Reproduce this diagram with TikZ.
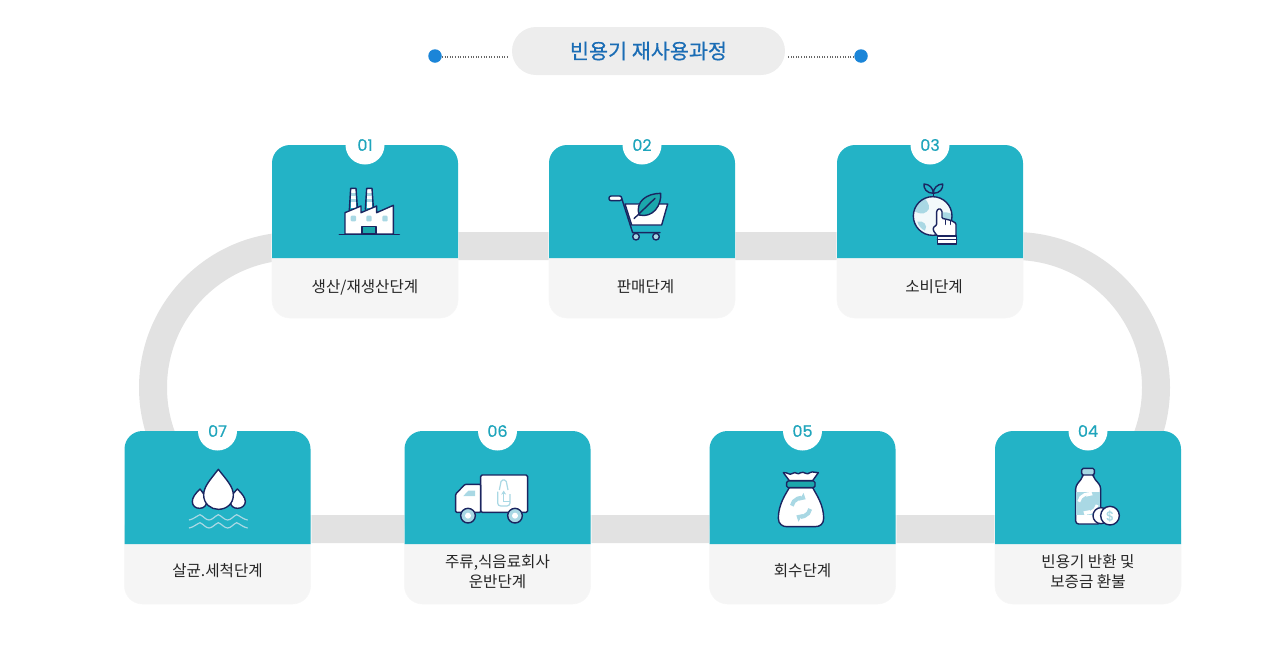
\documentclass[tikz,border=0pt]{standalone}
\usepackage{fontspec}
\newfontfamily\cjk{Noto Sans CJK KR}
\newfontfamily\cjkm[FakeBold=0.5]{Noto Sans CJK KR}
\newfontfamily\numf[FakeBold=0.5]{Poppins}
\usetikzlibrary{arrows.meta}
\definecolor{tealc}{HTML}{23B3C6}
\definecolor{bandc}{HTML}{E2E2E2}
\definecolor{navy}{HTML}{1B2560}
\definecolor{lblue}{HTML}{A9D8E4}
\definecolor{lower}{HTML}{F5F5F5}
\definecolor{numc}{HTML}{1FA5BC}
\definecolor{titlec}{HTML}{1B6DB5}
\definecolor{dotc}{HTML}{1B85D8}
\definecolor{leaf}{HTML}{1BA7AC}
\tikzset{
  x=1pt,y=-1pt,
  lab/.style={font=\cjk\fontsize{15.6}{20}\selectfont,text=black!85,align=center,inner sep=0pt},
  numlab/.style={font=\numf\fontsize{16}{16}\selectfont,text=numc,inner sep=0pt},
  ic/.style={draw=navy,line width=1.4pt,line join=round,line cap=round},
  wht/.style={ic,fill=white},
  dotline/.style={draw=black!60,line width=1.1pt,dash pattern=on 1.1pt off 1.5pt},
  dotn/.style={circle,fill=dotc,minimum size=13.5pt,inner sep=0pt}
}
% name, x-left, y-top, number, label, label y, label dx
\newcommand{\card}[7]{%
  \fill[white,opacity=.5] (#2-1,#3+20) rectangle (#2+187,#3+113);
  \fill[lower,draw=black!3,line width=.6pt,rounded corners=18pt] (#2,#3+80) rectangle (#2+186,#3+173);
  \fill[tealc] (#2,#3+113) -- (#2,#3+18) arc (180:270:18) -- (#2+168,#3) arc (-90:0:18) -- (#2+186,#3+113) -- cycle;
  \fill[white] (#2+93,#3) circle (19.5);
  \fill[white] (#2+70,#3-8) rectangle (#2+116,#3);
  \node[numlab] (#1n) at (#2+93,#3) {#4};
  \node[lab] (#1l) at (#2+93+#7,#6) {#5};
}
% two-arrow recycle sign, in zoom units
\newcommand{\recyc}[4]{%
  \draw[#1,line width=#4,-{Triangle[length=5pt,width=8.5pt]}] (#2,#3)++(190:28) arc (190:300:28);
  \draw[#1,line width=#4,-{Triangle[length=5pt,width=8.5pt]}] (#2,#3)++(10:28) arc (10:120:28);
}
\begin{document}
\begin{tikzpicture}
\useasboundingbox (0,0) rectangle (1280,662);
% track
\draw[bandc,line width=28pt] (294.5,246) -- (1014.5,246) arc (-90:90:141.5) -- (294.5,529) arc (90:270:141.5) -- cycle;
% header
\node[fill=black!7,minimum width=273pt,minimum height=48pt,rounded corners=24pt,inner sep=0pt,
  font=\cjkm\fontsize{20.7}{24}\selectfont,text=titlec] (title) at (648.5,51) {\raisebox{-2pt}{빈용기 재사용과정}};
\node[dotn] (dotL) at (435,56) {};
\node[dotn] (dotR) at (861,56) {};
\draw[dotline] (dotL.east) ++(0,1) -- ++(67,0);
\draw[dotline] (dotR.west) ++(0,1) -- ++(-67,0);
% cards
\card{a}{272}{145}{01}{생산/재생산단계}{287}{0}
\card{b}{549}{145}{02}{판매단계}{287}{3.5}
\card{c}{837}{145}{03}{소비단계}{287}{4}
\card{g}{124.5}{431}{07}{살균.세척단계}{571}{0}
\card{f}{404.5}{431}{06}{주류,식음료회사\\운반단계}{571.5}{0}
\card{e}{709.5}{431}{05}{회수단계}{571}{0}
\card{d}{995}{431}{04}{빈용기 반환 및\\보증금 환불}{571.5}{0}
% factory
\begin{scope}[shift={(260,130)},scale=1/3]
\fill[white] (272,175) rectangle (288,235);
\fill[white] (320,175) rectangle (336,235);
\foreach \a in {0,1}{\fill[lblue] (272,190+\a*18) rectangle (288,198+\a*18);\fill[lblue] (320,190+\a*18) rectangle (336,198+\a*18);}
\draw[ic] (268,240) -- (272,175) -- (288,175) -- (292,232);
\draw[ic] (316,238) -- (320,175) -- (336,175) -- (340,232);
\draw[wht] (255,312) -- (255,248) -- (303,228) -- (303,248) -- (350,228) -- (350,248) -- (400,226) -- (400,312) -- cycle;
\foreach \x in {280,327,375}{\fill[lblue,rounded corners=1pt] (\x-8,257) rectangle (\x+8,274);}
\draw[ic,fill=leaf] (306,290) rectangle (348,312);
\draw[ic] (238,313) -- (418,313);
\end{scope}
% cart
\begin{scope}[shift={(540,130)},scale=1/3]
\draw[ic,fill=white] (255,222) -- (383,222) -- (365,285) -- (275,285) -- cycle;
\draw[ic] (245,205) -- (278,308) -- (360,308);
\draw[wht,rounded corners=2pt] (207,198) rectangle (245,212);
\draw[ic,fill=lblue] (288,320) circle (10);
\draw[ic,fill=lblue] (348,320) circle (10);
\draw[ic,fill=leaf] (297,255) .. controls (285,215) and (320,190) .. (362,190) .. controls (365,225) and (340,265) .. (297,255) -- cycle;
\draw[ic] (282,266) -- (345,205);
\end{scope}
% globe
\begin{scope}[shift={(830,130)},scale=1/3]
\fill[white!85!lblue] (308,258) circle (58);
\begin{scope}
\clip (308,258) circle (58);
\fill[lblue] (285,205) .. controls (295,220) and (305,235) .. (290,245) .. controls (280,255) and (262,250) .. (245,240) -- (260,200) -- cycle;
\fill[lblue] (262,275) .. controls (280,270) and (295,285) .. (285,302) .. controls (275,298) and (265,288) .. (262,275) -- cycle;
\fill[lblue] (320,250) .. controls (340,245) and (358,245) .. (370,255) -- (370,275) .. controls (350,280) and (325,280) .. (320,250) -- cycle;
\end{scope}
\draw[ic] (308,258) circle (58);
\draw[ic] (310,198) -- (310,180);
\draw[ic] (310,190) .. controls (290,190) and (280,175) .. (282,162) .. controls (298,162) and (310,175) .. (310,190) -- cycle;
\draw[ic] (310,190) .. controls (330,190) and (340,175) .. (338,162) .. controls (322,162) and (310,175) .. (310,190) -- cycle;
\draw[wht,rounded corners=1pt] (322,318) -- (310,302) -- (310,292) -- (320,285) -- (320,242) -- (328,235) -- (336,242) -- (336,265) -- (350,268) -- (365,272) -- (378,280) -- (378,318) -- cycle;
\draw[ic] (347,270) -- (347,283) (362,274) -- (362,283);
\draw[wht] (322,318) rectangle (380,342);
\draw[ic] (322,328) -- (380,328);
\end{scope}
% drops
\begin{scope}[shift={(115,420)},scale=1/3]
\draw[wht] (255,207) .. controls (240,222) and (232,232) .. (232,245) .. controls (232,258) and (242,265) .. (254,265) .. controls (268,265) and (275,255) .. (275,245) .. controls (275,232) and (265,220) .. (255,207) -- cycle;
\draw[wht] (367,207) .. controls (352,222) and (346,232) .. (346,245) .. controls (346,258) and (356,265) .. (368,265) .. controls (382,265) and (391,255) .. (391,245) .. controls (391,232) and (380,220) .. (367,207) -- cycle;
\draw[wht] (310,148) .. controls (285,180) and (266,200) .. (266,225) .. controls (266,252) and (288,268) .. (310,268) .. controls (334,268) and (355,252) .. (355,225) .. controls (355,200) and (335,180) .. (310,148) -- cycle;
\foreach \d in {0,24}{
\draw[lblue,line width=1.2pt] (222,300+\d) .. controls (235,298+\d) and (245,288+\d) .. (255,284+\d) .. controls (265,288+\d) and (272,300+\d) .. (282,300+\d) .. controls (292,300+\d) and (300,288+\d) .. (310,284+\d) .. controls (320,288+\d) and (328,300+\d) .. (338,300+\d) .. controls (348,300+\d) and (355,288+\d) .. (365,284+\d) .. controls (375,288+\d) and (385,298+\d) .. (398,300+\d);
}
\end{scope}
% truck
\begin{scope}[shift={(400,420)},scale=1/3]
\draw[wht,rounded corners=1.5pt] (242,165) -- (383,165) -- (383,277) -- (242,277) -- cycle;
\draw[wht,rounded corners=1pt] (242,193) -- (195,193) -- (167,222) -- (167,277) -- (242,277) -- cycle;
\fill[lblue] (190,228) -- (205,212) -- (225,212) -- (225,228) -- cycle;
\draw[lblue,line width=1.2pt,rounded corners=1.5pt] (298,210) -- (304,180) -- (318,180) -- (324,210);
\draw[lblue,line width=1.2pt,rounded corners=3pt] (293,215) -- (293,258) -- (330,258) -- (330,222);
\draw[lblue,line width=1.2pt,-{Stealth[length=4pt,width=5pt]}] (311,245) -- (311,212);
\draw[lblue,line width=1.2pt] (311,245) -- (330,245);
\draw[ic,fill=lblue] (204,287) circle (22);
\draw[ic,fill=lblue] (345,287) circle (22);
\fill[white] (204,287) circle (9);
\fill[white] (345,287) circle (9);
\end{scope}
% bag
\begin{scope}[shift={(700,420)},scale=1/3]
\draw[wht] (250,158) .. controls (262,155) and (268,168) .. (278,160) .. controls (288,152) and (292,168) .. (302,158) .. controls (312,152) and (320,168) .. (330,158) .. controls (340,152) and (345,160) .. (355,158) -- (338,182) -- (268,182) -- cycle;
\draw[wht] (268,203) .. controls (255,225) and (235,255) .. (235,295) .. controls (235,312) and (248,320) .. (260,320) -- (345,320) .. controls (360,320) and (371,312) .. (371,295) .. controls (371,255) and (350,225) .. (338,203) -- cycle;
\draw[ic,fill=leaf,rounded corners=1.5pt] (260,183) rectangle (345,203);
\recyc{lblue}{303}{262}{4pt}
\end{scope}
% bottle
\begin{scope}[shift={(985,420)},scale=1/3]
\draw[wht,rounded corners=3pt] (293,160) -- (293,172) -- (272,198) -- (272,312) -- (347,312) -- (347,198) -- (325,172) -- (325,160) -- cycle;
\fill[lblue] (272,215) rectangle (347,285);
\draw[ic] (272,215) -- (272,285) (347,215) -- (347,285);
\recyc{white}{309}{250}{3pt}
\draw[ic,fill=lblue,rounded corners=1.5pt] (290,145) rectangle (328,165);
\draw[wht] (348,287) circle (24);
\draw[wht] (375,287) circle (28);
\node[font=\numf\fontsize{13}{13}\selectfont,text=lblue,inner sep=0pt] (dollar) at (375,288) {\$};
\end{scope}
\end{tikzpicture}
\end{document}
